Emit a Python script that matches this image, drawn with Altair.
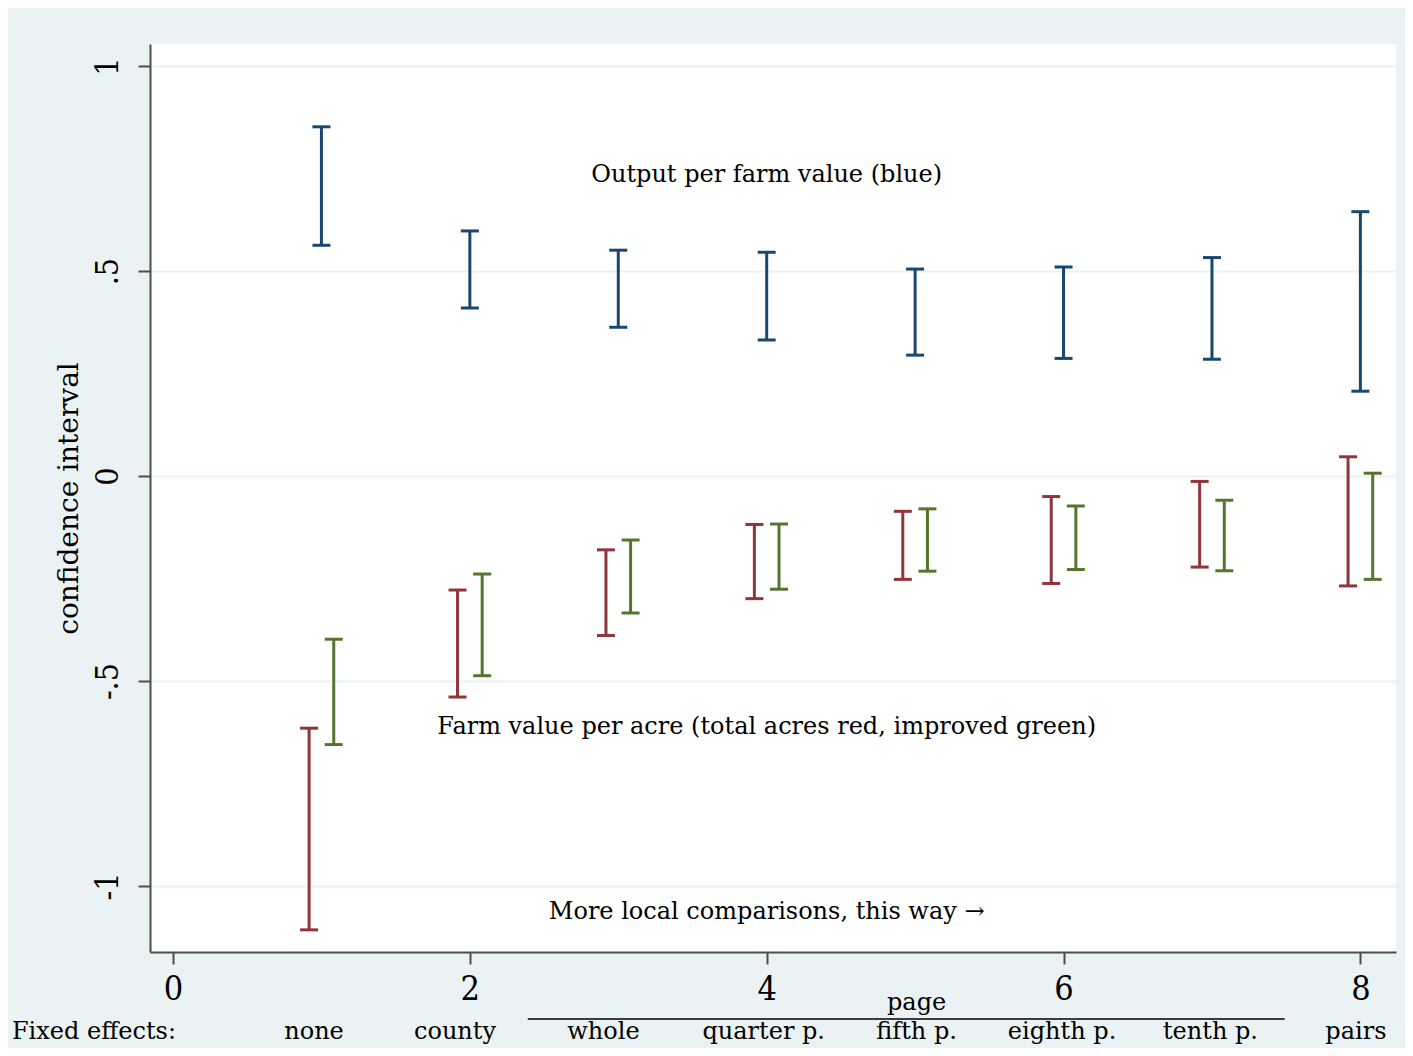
import altair as alt
import pandas as pd

# Data
xpos = [1, 2, 3, 4, 5, 6, 7, 8]
blue_lo = [0.563, 0.410, 0.363, 0.332, 0.295, 0.287, 0.285, 0.207]
blue_hi = [0.852, 0.598, 0.551, 0.546, 0.505, 0.510, 0.533, 0.645]
red_lo = [-1.107, -0.539, -0.389, -0.299, -0.252, -0.262, -0.222, -0.268]
red_hi = [-0.615, -0.278, -0.180, -0.118, -0.086, -0.050, -0.013, 0.047]
green_lo = [-0.655, -0.487, -0.334, -0.276, -0.232, -0.228, -0.231, -0.252]
green_hi = [-0.398, -0.239, -0.156, -0.117, -0.080, -0.073, -0.059, 0.007]
offsets = {"blue": 0.0, "red": -0.083, "green": 0.083}

fe_labels = ["none", "county", "whole", "quarter p.", "fifth p.", "eighth p.", "tenth p.", "pairs"]
fe_label_x = [0.95, 1.90, 2.90, 3.98, 5.01, 5.99, 6.99, 7.97]

rows = []
for name, lo, hi in [("blue", blue_lo, blue_hi), ("red", red_lo, red_hi), ("green", green_lo, green_hi)]:
    for x, l, h in zip(xpos, lo, hi):
        rows.append({"series": name, "x": x + offsets[name], "lo": l, "hi": h})
df = pd.DataFrame(rows)

BG = "#EAF2F3"
FONT = "DejaVu Serif"
FONTC = "DejaVu Serif Condensed"

xscale = alt.Scale(domain=[-0.155, 8.24], nice=False, zero=False)
yscale = alt.Scale(domain=[-1.161, 1.054], nice=False, zero=False)
color = alt.Color("series:N", scale=alt.Scale(domain=["blue", "red", "green"],
                                              range=["#1A476F", "#90353B", "#55752F"]), legend=None)

base = alt.Chart(df)
xenc = alt.X("x:Q", scale=xscale,
             axis=alt.Axis(values=[0, 2, 4, 6, 8], title=None, grid=False, format="d"))
yenc = alt.Y("lo:Q", scale=yscale,
             axis=alt.Axis(values=[-1, -0.5, 0, 0.5, 1], title="confidence interval",
                           labelExpr="replace(toString(datum.value), '0.', '.')",
                           labelAngle=270, grid=True))

stems = base.mark_rule(strokeWidth=3).encode(x=xenc, y=yenc, y2="hi:Q", color=color)
cap_top = base.mark_rule(strokeWidth=3, xOffset=-9, x2Offset=9).encode(
    x="x:Q", x2="x:Q", y="hi:Q", color=color)
cap_bot = base.mark_rule(strokeWidth=3, xOffset=-9, x2Offset=9).encode(
    x="x:Q", x2="x:Q", y="lo:Q", color=color)

ann_text = ["Output per farm value (blue)",
            "Farm value per acre (total acres red, improved green)",
            "More local comparisons, this way \u2192"]
ann_x = [4.0, 4.0, 4.0]
ann_y = [0.735, -0.612, -1.063]
ann = alt.Chart(pd.DataFrame({"t": ann_text, "x": ann_x, "y": ann_y})).mark_text(
    font=FONT, fontSize=24, color="black", baseline="middle", align="center").encode(
    x="x:Q", y="y:Q", text="t:N")

fe = alt.Chart(pd.DataFrame({"t": fe_labels, "x": fe_label_x})).mark_text(
    font=FONT, fontSize=24, color="black", baseline="middle", align="center").encode(
    x="x:Q", y=alt.value(988), text="t:N")

fe_title = alt.Chart(pd.DataFrame({"t": ["Fixed effects:"], "x": [-1.085]})).mark_text(
    font=FONT, fontSize=24, color="black", baseline="middle", align="left").encode(
    x="x:Q", y=alt.value(988), text="t:N")

page_lbl = alt.Chart(pd.DataFrame({"t": ["page"], "x": [5.01]})).mark_text(
    font=FONT, fontSize=24, color="black", baseline="middle", align="center").encode(
    x="x:Q", y=alt.value(959), text="t:N")

bracket = alt.Chart(pd.DataFrame({"a": [2.39], "b": [7.49]})).mark_rule(
    color="black", strokeWidth=1.5).encode(x="a:Q", x2="b:Q", y=alt.value(975))

chart = alt.layer(stems, cap_top, cap_bot, ann, fe, fe_title, page_lbl, bracket).properties(
    width=1246, height=908,
    autosize=alt.AutoSizeParams(type="none"),
    padding={"left": 142, "top": 36, "right": 9, "bottom": 96},
    background=BG,
).configure_view(fill="white", stroke=None).configure_axis(
    domainColor="#4d4d4d", domainWidth=2, tickColor="#4d4d4d", tickWidth=2, tickSize=12,
    labelColor="black", labelFont=FONTC, gridColor=BG, gridWidth=2,
    titleFont=FONT, titleFontWeight="normal", titleColor="black",
).configure_axisX(labelFontSize=34, labelPadding=8).configure_axisY(
    labelFontSize=32, labelPadding=14, titleFontSize=28, titlePadding=8)

chart.save("out.html", embed_options={"renderer": "svg", "actions": False})
